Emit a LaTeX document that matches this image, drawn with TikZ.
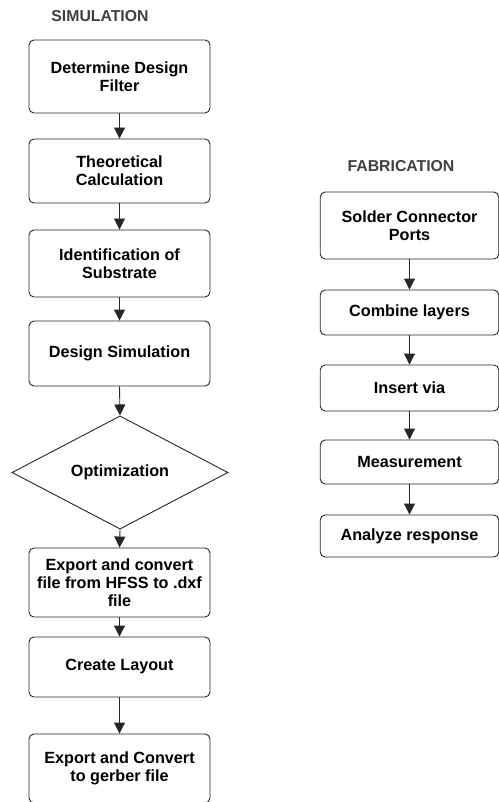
\documentclass[tikz,border=0pt]{standalone}
\usepackage{fontspec}
\setmainfont{Liberation Sans}
\usetikzlibrary{arrows.meta,shapes.geometric}
\begin{document}
\begin{tikzpicture}[x=1pt,y=-1pt,
  every node/.style={font=\bfseries\fontsize{16.2}{18}\selectfont, text=black},
  box/.style={draw=black!85, line width=0.9pt, rounded corners=5pt, align=center, inner sep=0pt},
  lbox/.style={box, minimum width=181pt},
  rbox/.style={box, minimum width=178.5pt},
  dia/.style={draw=black!85, line width=0.9pt, diamond, inner sep=0pt, minimum width=216pt, minimum height=105pt},
  ttl/.style={text=black!75, font=\bfseries\fontsize{15.8}{18}\selectfont},
  arr/.style={draw=black!85, line width=0.9pt, -{Triangle[width=11pt,length=11pt]}}
]
\useasboundingbox (0,0) rectangle (498,802);
\node[ttl] (st) at (100,16) {SIMULATION};
\node[ttl] (ft) at (401,166) {FABRICATION};

\node[lbox, minimum height=73pt] (b1) at (119.5,76.5) {Determine Design\\Filter};
\node[lbox, minimum height=64pt] (b2) at (119.5,171) {Theoretical\\Calculation};
\node[lbox, minimum height=67pt] (b3) at (119.5,263.5) {Identification of\\Substrate};
\node[lbox, minimum height=65pt] (b4) at (119.5,353.5) {Design Simulation};
\node[dia] (d) at (120,472.5) {Optimization};
\node[lbox, minimum height=69pt] (b5) at (119.5,582.5) {Export and convert\\file from HFSS to .dxf\\file};
\node[lbox, minimum height=60pt] (b6) at (119.5,667) {Create Layout};
\node[lbox, minimum height=69pt] (b7) at (119.5,768.5) {Export and Convert\\to gerber file};

\node[rbox, minimum height=67pt] (f1) at (409.5,225.5) {Solder Connector\\Ports};
\node[rbox, minimum height=45pt] (f2) at (409.5,312.5) {Combine layers};
\node[rbox, minimum height=46pt] (f3) at (409.5,388) {Insert via};
\node[rbox, minimum height=44pt] (f4) at (409.5,462) {Measurement};
\node[rbox, minimum height=42pt] (f5) at (409.5,536) {Analyze response};

\draw[arr] (b1) -- (b2);
\draw[arr] (b2) -- (b3);
\draw[arr] (b3) -- (b4);
\draw[arr] (b4.south) -- (d.north);
\draw[arr] (d.south) -- (b5.north);
\draw[arr] (b5) -- (b6);
\draw[arr] (b6) -- (b7);

\draw[arr] (f1) -- (f2);
\draw[arr] (f2) -- (f3);
\draw[arr] (f3) -- (f4);
\draw[arr] (f4) -- (f5);
\end{tikzpicture}
\end{document}
